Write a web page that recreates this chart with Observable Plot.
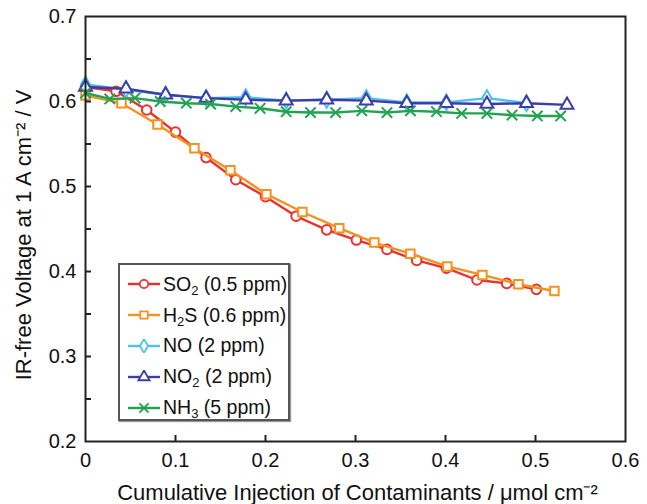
<!DOCTYPE html>
<html>
<head>
<meta charset="utf-8">
<script src="https://cdn.jsdelivr.net/npm/d3@7"></script>
<script src="https://cdn.jsdelivr.net/npm/@observablehq/plot@0.6"></script>
<style>
  html, body { margin: 0; padding: 0; background: white; }
  #wrap { position: relative; width: 647px; height: 504px; font-family: "Liberation Sans", Arial, sans-serif; }
  #legend { position: absolute; left: 118px; top: 263px; width: 172px; height: 158px; box-sizing: border-box;
            border: 2px solid #555; box-shadow: 1px 1px 1px #999; background: white; padding-top: 4px; }
  .row { display: flex; align-items: center; height: 30.8px; font-size: 19.5px; color: #111; white-space: nowrap; }
  .row svg { margin-left: 8px; margin-right: 3px; flex: none; }
  sub { font-size: 13px; vertical-align: -4px; line-height: 0; }
</style>
</head>
<body>
<div id="wrap"></div>
<script>
// ---- data ----
const seriesNames = ["SO2", "H2S", "NO", "NO2", "NH3"];
const legendLabels = ["SO<sub>2</sub> (0.5 ppm)", "H<sub>2</sub>S (0.6 ppm)", "NO (2 ppm)", "NO<sub>2</sub> (2 ppm)", "NH<sub>3</sub> (5 ppm)"];
const seriesColors = ["#ec2f2f", "#f5921f", "#4cc3e6", "#3c3caa", "#22a352"];
const seriesSymbols = ["circle", "square", "diamond", "triangle", "times"];

const so2X = [0, 0.034, 0.068, 0.100, 0.134, 0.167, 0.200, 0.234, 0.268, 0.301, 0.335, 0.368, 0.401, 0.435, 0.468, 0.501];
const so2V = [0.617, 0.612, 0.590, 0.564, 0.534, 0.508, 0.488, 0.465, 0.449, 0.437, 0.426, 0.413, 0.404, 0.390, 0.386, 0.379];

const h2sX = [0, 0.040, 0.080, 0.121, 0.161, 0.201, 0.241, 0.282, 0.321, 0.361, 0.402, 0.441, 0.481, 0.521];
const h2sV = [0.607, 0.598, 0.573, 0.545, 0.519, 0.491, 0.470, 0.451, 0.434, 0.421, 0.406, 0.396, 0.385, 0.377];

const noX = [0, 0.045, 0.089, 0.134, 0.178, 0.223, 0.268, 0.312, 0.357, 0.401, 0.446, 0.490];
const noV = [0.620, 0.614, 0.608, 0.604, 0.605, 0.601, 0.602, 0.604, 0.599, 0.599, 0.604, 0.598];

const no2X = [0, 0.045, 0.089, 0.134, 0.178, 0.223, 0.268, 0.312, 0.357, 0.401, 0.446, 0.490, 0.535];
const no2V = [0.617, 0.615, 0.608, 0.604, 0.602, 0.601, 0.602, 0.601, 0.598, 0.598, 0.597, 0.598, 0.596];

const nh3X = [0, 0.027, 0.055, 0.083, 0.112, 0.139, 0.167, 0.194, 0.223, 0.250, 0.278, 0.307, 0.335, 0.361, 0.390, 0.418, 0.446, 0.474, 0.502, 0.528];
const nh3V = [0.610, 0.603, 0.604, 0.600, 0.598, 0.597, 0.594, 0.592, 0.588, 0.587, 0.587, 0.589, 0.587, 0.589, 0.588, 0.586, 0.586, 0.584, 0.583, 0.583];

const xTickLabels = [0, 0.1, 0.2, 0.3, 0.4, 0.5, 0.6];
const xTickMarks = [0.1, 0.2, 0.3, 0.4, 0.5];
const yTickLabels = [0.2, 0.3, 0.4, 0.5, 0.6, 0.7];
const yTickMarks = [0.25, 0.3, 0.35, 0.4, 0.45, 0.5, 0.55, 0.6, 0.65];

const xTitle = "Cumulative Injection of Contaminants / μmol cm⁻²";
const yTitle = "IR-free Voltage at 1 A cm⁻² / V";

// ---- build ----
const xs = [so2X, h2sX, noX, no2X, nh3X];
const vs = [so2V, h2sV, noV, no2V, nh3V];
const series = seriesNames.map((name, i) => ({
  name, color: seriesColors[i], symbol: seriesSymbols[i],
  rows: xs[i].map((x, j) => ({x, v: vs[i][j]}))
}));

const W = 647, H = 504, mL = 85, mR = 22, mT = 16, mB = 63;
const plotW = W - mL - mR, plotH = H - mT - mB;
const fmt = d => d === 0 ? "0" : d3.format(".1f")(d);

const marks = [];
for (const s of series) {
  marks.push(Plot.line(s.rows, {x: "x", y: "v", stroke: s.color, strokeWidth: 2.4}));
  marks.push(Plot.dot(s.rows, {x: "x", y: "v", symbol: () => s.symbol, r: 4.8,
    stroke: s.color, strokeWidth: 2, fill: s.symbol === "times" ? "none" : "white"}));
}

const chart = Plot.plot({
  width: W, height: H,
  marginLeft: mL, marginRight: mR, marginTop: mT, marginBottom: mB,
  style: {fontFamily: "'Liberation Sans', Arial, sans-serif", fontSize: "20px", background: "white", color: "#111"},
  x: {domain: [0, 0.6], label: null},
  y: {domain: [0.2, 0.7], label: null},
  symbol: {type: "identity"},
  marks: [
    ...marks,
    Plot.tickY(yTickMarks, {y: d => d, insetRight: plotW - 6, stroke: "#222", strokeWidth: 2}),
    Plot.tickX(xTickMarks, {x: d => d, insetTop: plotH - 6, stroke: "#222", strokeWidth: 2}),
    Plot.axisY(yTickLabels, {tickSize: 0, tickPadding: 9, tickFormat: fmt, fontSize: 20, label: null}),
    Plot.axisX(xTickLabels, {tickSize: 0, tickPadding: 11, tickFormat: fmt, fontSize: 20, label: null}),
    Plot.text([xTitle], {text: d => d, frameAnchor: "bottom", dy: 51, dx: 2, fontSize: 22, lineAnchor: "middle", textAnchor: "middle"}),
    Plot.text([yTitle], {text: d => d, frameAnchor: "left", dx: -62, dy: 6, rotate: -90, fontSize: 22, lineAnchor: "middle", textAnchor: "middle"}),
    Plot.frame({stroke: "#222", strokeWidth: 2})
  ]
});

const wrap = document.getElementById("wrap");
wrap.appendChild(chart);

// legend overlay
const legend = document.createElement("div");
legend.id = "legend";
const symMap = {circle: d3.symbolCircle, square: d3.symbolSquare, diamond: d3.symbolDiamond, triangle: d3.symbolTriangle, times: d3.symbolTimes};
series.forEach((s, i) => {
  const row = document.createElement("div");
  row.className = "row";
  const svg = d3.create("svg").attr("width", 32).attr("height", 14);
  svg.append("line").attr("x1", 0).attr("x2", 32).attr("y1", 7).attr("y2", 7)
    .attr("stroke", s.color).attr("stroke-width", 2.4);
  svg.append("path").attr("transform", "translate(16,7)")
    .attr("d", d3.symbol(symMap[s.symbol], 4.2 * 4.2 * Math.PI)())
    .attr("stroke", s.color).attr("stroke-width", 1.8)
    .attr("fill", s.symbol === "times" ? "none" : "white");
  row.appendChild(svg.node());
  const span = document.createElement("span");
  span.innerHTML = legendLabels[i];
  row.appendChild(span);
  legend.appendChild(row);
});
wrap.appendChild(legend);
</script>
</body>
</html>
